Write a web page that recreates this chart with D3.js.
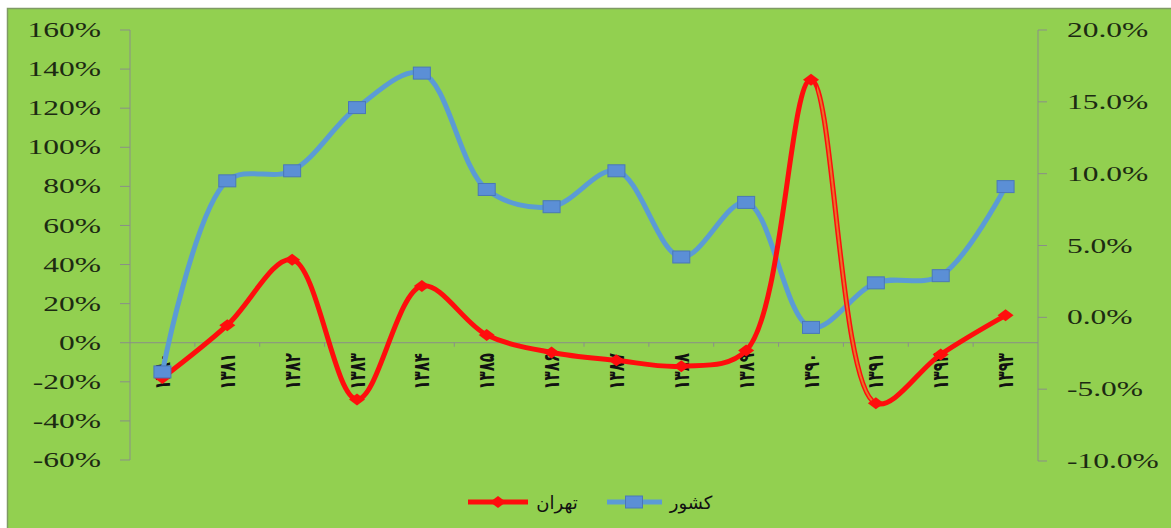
<!DOCTYPE html>
<html>
<head>
<meta charset="utf-8">
<script src="https://cdn.jsdelivr.net/npm/d3@7"></script>
<style>
  html, body { margin: 0; padding: 0; background: #ffffff; }
  svg { display: block; }
</style>
</head>
<body>
<svg id="chart" width="1171" height="528"></svg>
<script>
// ---- data ----
const categories = ["۱۳۸۰","۱۳۸۱","۱۳۸۲","۱۳۸۳","۱۳۸۴","۱۳۸۵","۱۳۸۶","۱۳۸۷","۱۳۸۸","۱۳۸۹","۱۳۹۰","۱۳۹۱","۱۳۹۲","۱۳۹۳"];
const tehranValues = [-0.18, 0.09, 0.425, -0.29, 0.29, 0.04, -0.05, -0.09, -0.12, -0.04, 1.345, -0.31, -0.06, 0.14];
const keshvarValues = [-0.038, 0.095, 0.102, 0.146, 0.170, 0.089, 0.077, 0.102, 0.042, 0.080, -0.007, 0.024, 0.029, 0.091];
const leftTicks = [-0.6, -0.4, -0.2, 0, 0.2, 0.4, 0.6, 0.8, 1.0, 1.2, 1.4, 1.6];
const rightTicks = [-0.10, -0.05, 0, 0.05, 0.10, 0.15, 0.20];
const seriesNames = ["تهران", "کشور"];

// ---- layout ----
const svg = d3.select("#chart");
const plot = { left: 130, right: 1038, top: 30, bottom: 460 };
const axisColor = "#8a8f88";
const textColor = "#1c2a12";
const stretch = 1.5;
const fmtL = v => d3.format(".0%")(v).replace("\u2212", "-");
const fmtR = v => d3.format(".1%")(v).replace("\u2212", "-");

// background / frame
svg.append("rect").attr("x", 7.5).attr("y", 8.5).attr("width", 1180).attr("height", 540)
  .attr("fill", "#92d050").attr("stroke", "#7f9a64").attr("stroke-width", 1.5);

const x = d3.scaleBand().domain(categories).range([plot.left, plot.right]).paddingInner(0).paddingOuter(0);
const xc = d => x(d) + x.bandwidth() / 2;
const yL = d3.scaleLinear().domain([-0.6, 1.6]).range([plot.bottom, plot.top]);
const yR = d3.scaleLinear().domain([-0.10, 0.20]).range([461, plot.top]);

// left axis
svg.append("line").attr("x1", plot.left).attr("x2", plot.left)
  .attr("y1", yL(1.6)).attr("y2", yL(-0.6)).attr("stroke", axisColor).attr("stroke-width", 1);
leftTicks.forEach(t => {
  svg.append("line").attr("x1", plot.left - 10).attr("x2", plot.left)
    .attr("y1", yL(t)).attr("y2", yL(t)).attr("stroke", axisColor);
  svg.append("text")
    .attr("transform", `translate(101,${yL(t)}) scale(${stretch},1)`)
    .attr("text-anchor", "end").attr("dominant-baseline", "central")
    .attr("font-family", "Liberation Serif, Times New Roman, serif")
    .attr("font-size", 21).attr("fill", textColor)
    .text(fmtL(t));
});

// right axis
svg.append("line").attr("x1", plot.right).attr("x2", plot.right)
  .attr("y1", yR(0.20)).attr("y2", yR(-0.10)).attr("stroke", axisColor).attr("stroke-width", 1);
rightTicks.forEach(t => {
  svg.append("line").attr("x1", plot.right).attr("x2", plot.right + 9)
    .attr("y1", yR(t)).attr("y2", yR(t)).attr("stroke", axisColor);
  svg.append("text")
    .attr("transform", `translate(1067,${yR(t)}) scale(${stretch},1)`)
    .attr("text-anchor", "start").attr("dominant-baseline", "central")
    .attr("font-family", "Liberation Serif, Times New Roman, serif")
    .attr("font-size", 21).attr("fill", textColor)
    .text(fmtR(t));
});

// x axis at left zero
const y0 = yL(0);
svg.append("line").attr("x1", plot.left).attr("x2", plot.right)
  .attr("y1", y0).attr("y2", y0).attr("stroke", axisColor).attr("stroke-width", 1);
categories.forEach((c, i) => {
  if (i > 0) {
    svg.append("line").attr("x1", x(c)).attr("x2", x(c)).attr("y1", y0).attr("y2", y0 + 4)
      .attr("stroke", axisColor);
  }
  svg.append("text")
    .attr("transform", `translate(${xc(c)},353) scale(1.45,1) rotate(-90)`)
    .attr("text-anchor", "end").attr("dominant-baseline", "central")
    .attr("font-family", "DejaVu Sans, sans-serif").attr("font-weight", "bold")
    .attr("font-size", 15).attr("fill", "#111")
    .text(c);
});

// lines
const curve = d3.curveCatmullRom.alpha(0.5);
const lineT = d3.line().x((d, i) => xc(categories[i])).y(d => yL(d)).curve(curve);
const lineK = d3.line().x((d, i) => xc(categories[i])).y(d => yR(d)).curve(curve);

const blue = "#5b9bd5";
const red = "#ff0d0d";

svg.append("path").attr("d", lineK(keshvarValues)).attr("fill", "none")
  .attr("stroke", blue).attr("stroke-width", 5).attr("stroke-linejoin", "round");
svg.append("path").attr("d", lineT(tehranValues)).attr("fill", "none")
  .attr("stroke", red).attr("stroke-width", 5).attr("stroke-linejoin", "round");

// orange-cored stretch between 1390 and 1391
svg.append("clipPath").attr("id", "segclip").append("rect")
  .attr("x", xc(categories[10]) + 6).attr("y", 0)
  .attr("width", xc(categories[11]) - xc(categories[10]) - 6).attr("height", 528);
svg.append("path").attr("d", lineT(tehranValues)).attr("fill", "none")
  .attr("clip-path", "url(#segclip)")
  .attr("stroke", "#e8742a").attr("stroke-width", 2);

// markers
svg.selectAll("path.dia").data(tehranValues).enter().append("path")
  .attr("class", "dia")
  .attr("transform", (d, i) => `translate(${xc(categories[i])},${yL(d)})`)
  .attr("d", "M0,-6 L8,0 L0,6 L-8,0 Z").attr("fill", red);

svg.selectAll("rect.sq").data(keshvarValues).enter().append("rect")
  .attr("class", "sq")
  .attr("x", (d, i) => xc(categories[i]) - 8.5).attr("y", d => yR(d) - 6)
  .attr("width", 17).attr("height", 12)
  .attr("fill", "#5b8fd6").attr("stroke", "#4a78b8").attr("stroke-width", 1);

// legend
const ly = 502;
svg.append("line").attr("x1", 468).attr("x2", 528).attr("y1", ly).attr("y2", ly)
  .attr("stroke", red).attr("stroke-width", 5);
svg.append("path").attr("transform", `translate(498,${ly})`)
  .attr("d", "M0,-6 L8,0 L0,6 L-8,0 Z").attr("fill", red);
svg.append("text").attr("x", 557).attr("y", ly).attr("text-anchor", "middle")
  .attr("dominant-baseline", "central")
  .attr("font-family", "DejaVu Sans, sans-serif").attr("font-size", 18).attr("fill", "#111")
  .text(seriesNames[0]);

svg.append("line").attr("x1", 607).attr("x2", 662).attr("y1", ly).attr("y2", ly)
  .attr("stroke", blue).attr("stroke-width", 5);
svg.append("rect").attr("x", 634 - 8.5).attr("y", ly - 6).attr("width", 17).attr("height", 12)
  .attr("fill", "#5b8fd6").attr("stroke", "#4a78b8");
svg.append("text").attr("x", 691).attr("y", ly).attr("text-anchor", "middle")
  .attr("dominant-baseline", "central")
  .attr("font-family", "DejaVu Sans, sans-serif").attr("font-size", 18).attr("fill", "#111")
  .text(seriesNames[1]);
</script>
</body>
</html>
